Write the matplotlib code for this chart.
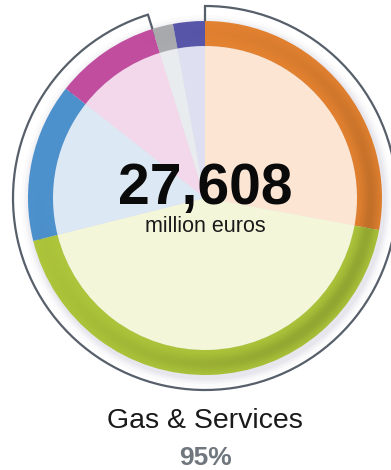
import matplotlib
matplotlib.use("Agg")
import matplotlib.pyplot as plt
import numpy as np
from matplotlib.patches import Wedge

# Data (share of total, %; clockwise from top)
segments = ["Segment A", "Segment B", "Segment C", "Segment D", "Segment E", "Segment F"]
shares = [27.9, 43.2, 14.5, 9.6, 1.9, 2.9]
ring_colors = ["#E38230", "#ADC53A", "#4C90CC", "#C04D9E", "#A8AAAD", "#5756A9"]
fill_colors = ["#FCE5D3", "#F3F6D8", "#DCE8F3", "#F3D7EB", "#E9ECEE", "#DEDFF1"]
highlight_label = "Gas & Services"
highlight_share = 95
total_value = "27,608"
unit_label = "million euros"

W, H = 391, 470
fig = plt.figure(figsize=(W / 100, H / 100), dpi=100)
ax = fig.add_axes([0, 0, 1, 1])

cx, cy = 205, H - 198
r_ring = 177
r_inner = 152
r_out = 192

# soft glow/shadow below ring
for k, a in [(9, 0.03), (6, 0.05), (4, 0.06), (2, 0.08)]:
    ax.add_patch(plt.Circle((cx + 2, cy - 3), r_ring + k, color="#8f8cae", alpha=a, lw=0, zorder=0))

# outline around highlighted group
hl = [sum(shares[:4]), sum(shares[4:])]
ax.pie(hl, radius=r_out, center=(cx, cy), startangle=90, counterclock=False,
       colors=["none", "none"],
       wedgeprops=dict(width=r_out - 170, linewidth=1.6),
       normalize=True)
wedges = ax.patches[-2:]
wedges[0].set_edgecolor("#575f6a")
wedges[1].set_edgecolor("none")
for w in wedges:
    w.set_zorder(1)

# light fill
pf, _ = ax.pie(shares, radius=r_inner, center=(cx, cy), startangle=90, counterclock=False,
               colors=fill_colors, wedgeprops=dict(linewidth=0))
for w in pf:
    w.set_zorder(2)
# ring
pr, _ = ax.pie(shares, radius=r_ring, center=(cx, cy), startangle=90, counterclock=False,
               colors=ring_colors, wedgeprops=dict(width=r_ring - r_inner, linewidth=0))
for w in pr:
    w.set_zorder(3)

# subtle shading overlay on the ring (darker toward lower right)
yy, xx = np.mgrid[0:H, 0:W]
dx = xx + 0.5 - cx
dy = (H - yy - 0.5) - cy
rr = np.hypot(dx, dy)
ang = np.arctan2(dy, dx)
dirw = 0.5 + 0.5 * np.cos(ang - np.deg2rad(-35))
t = np.clip((rr - r_inner) / (r_ring - r_inner), 0, 1)
radial = np.exp(-((t - 0.55) / 0.35) ** 2)
alpha = 0.16 * dirw ** 1.5 * radial
img = np.zeros((H, W, 4))
img[..., 3] = alpha
im = ax.imshow(img, extent=(0, W, 0, H), origin="upper", zorder=4, interpolation="bilinear")
clip = Wedge((cx, cy), r_ring, 0, 360, width=r_ring - r_inner, transform=ax.transData)
im.set_clip_path(clip)

ax.set_xlim(0, W)
ax.set_ylim(0, H)
ax.set_aspect("auto")
ax.axis("off")

fam = ["Liberation Sans", "DejaVu Sans"]
ax.text(cx, H - 189, total_value, ha="center", va="center", fontsize=41, fontweight="bold",
        color="#0a0a0a", family=fam, zorder=5)
ax.text(cx, H - 227, unit_label, ha="center", va="center", fontsize=15.5,
        color="#1a1a1a", family=fam, zorder=5)
ax.text(cx, H - 421, highlight_label, ha="center", va="center", fontsize=20.5,
        color="#1a1a1a", family=fam)
ax.text(cx, H - 458, f"{highlight_share}%", ha="center", va="center", fontsize=19,
        fontweight="bold", color="#6f767d", family=fam)

fig.savefig("out.png", dpi=100)
